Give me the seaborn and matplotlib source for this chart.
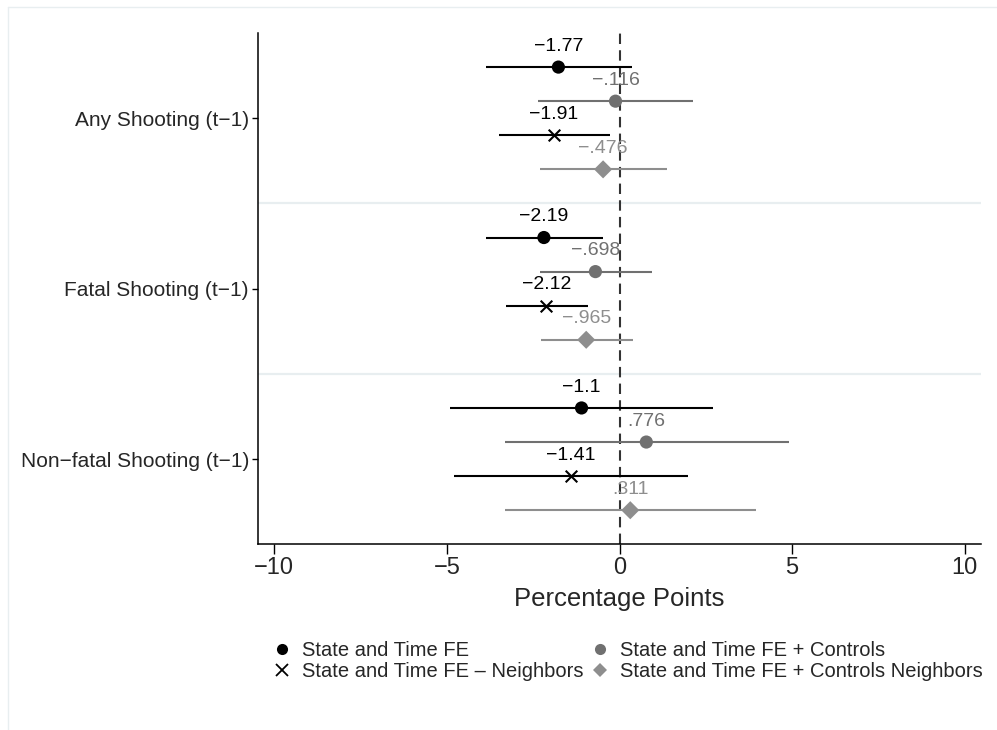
import pandas as pd
import matplotlib.pyplot as plt
import seaborn as sns
from matplotlib.lines import Line2D

# données
groups = ["Any Shooting (t\u22121)", "Fatal Shooting (t\u22121)", "Non\u2212fatal Shooting (t\u22121)"]
series = ["State and Time FE", "State and Time FE + Controls",
          "State and Time FE \u2013 Neighbors", "State and Time FE + Controls Neighbors"]

coef_fe = [-1.77, -2.19, -1.10]
coef_ctrl = [-0.116, -0.698, 0.776]
coef_nb = [-1.91, -2.12, -1.41]
coef_ctrl_nb = [-0.476, -0.965, 0.311]

lo_fe = [-3.87, -3.87, -4.90]
lo_ctrl = [-2.35, -2.30, -3.32]
lo_nb = [-3.50, -3.28, -4.78]
lo_ctrl_nb = [-2.31, -2.28, -3.31]

hi_fe = [0.37, -0.48, 2.72]
hi_ctrl = [2.13, 0.94, 4.90]
hi_nb = [-0.29, -0.92, 1.98]
hi_ctrl_nb = [1.38, 0.38, 3.95]

# style de chaque série
colors = ['black', '#707070', 'black', '#8e8e8e']
markers = ['o', 'o', 'x', 'D']
sizes = [90, 90, 70, 85]

coefs = [coef_fe, coef_ctrl, coef_nb, coef_ctrl_nb]
los = [lo_fe, lo_ctrl, lo_nb, lo_ctrl_nb]
his = [hi_fe, hi_ctrl, hi_nb, hi_ctrl_nb]

rows = []
for g, grp in enumerate(groups):
    for s, name in enumerate(series):
        rows.append({'group': grp, 'series': name,
                     'pos': g * 5 + 1 + (s - 1.5),
                     'coef': coefs[s][g], 'lo': los[s][g], 'hi': his[s][g]})
df = pd.DataFrame(rows)


def fmt(v):
    # format Stata : pas de zéro initial
    t = f"{v:.3g}".replace("0.", ".")
    return t.replace("-", "\u2212")


sns.set_style("white")
plt.rcParams['font.family'] = ['Liberation Sans', 'DejaVu Sans']
plt.rcParams['axes.unicode_minus'] = True

fig = plt.figure(figsize=(9.97, 7.30), dpi=100)
ax = fig.add_axes([258 / 997, 1 - 544.3 / 730, (980.7 - 258) / 997, (544.3 - 33) / 730])

# séparateurs entre groupes
for b in [3.5, 8.5]:
    ax.axhline(b, color='#e8eef0', lw=1.6, zorder=0)

ax.axvline(0, color='#333333', lw=1.5, dashes=(5, 3), zorder=1)

# intervalles de confiance + points (une série à la fois)
for s, name in enumerate(series):
    sub = df[df['series'] == name]
    ax.hlines(sub['pos'], sub['lo'], sub['hi'], color=colors[s], lw=1.5, zorder=2)
    if markers[s] == 'x':
        sns.scatterplot(data=sub, x='coef', y='pos', marker='x', s=sizes[s],
                        color=colors[s], linewidth=1.5, ax=ax, zorder=3)
    else:
        sns.scatterplot(data=sub, x='coef', y='pos', marker=markers[s], s=sizes[s],
                        color=colors[s], edgecolor='none', ax=ax, zorder=3)
    # étiquettes des coefficients
    for x, y in zip(sub['coef'], sub['pos']):
        ax.annotate(fmt(x), (x, y), xytext=(0, 15), textcoords='offset points',
                    ha='center', va='center', fontsize=14, color=colors[s], zorder=4)

ax.set_xlim(-10.47, 10.46)
ax.set_ylim(13.5, -1.5)
ax.set_yticks([1, 6, 11])
ax.set_yticklabels(groups, fontsize=15)
ax.set_xticks([-10, -5, 0, 5, 10])
ax.set_xticklabels([str(v).replace("-", "\u2212") for v in [-10, -5, 0, 5, 10]], fontsize=17)
ax.set_xlabel('Percentage Points', fontsize=18.5, labelpad=6)
ax.set_ylabel('')

for side in ['top', 'right']:
    ax.spines[side].set_visible(False)
for side in ['left', 'bottom']:
    ax.spines[side].set_color('black')
    ax.spines[side].set_linewidth(1.1)
ax.tick_params(axis='y', length=4.5, width=1, color='black', left=True, pad=2)
ax.tick_params(axis='x', length=7, width=1, color='black', bottom=True, pad=2)

# légende sur 2 colonnes
handles = [Line2D([], [], ls='none', marker=markers[s], color=colors[s],
                  markersize=8 if markers[s] != 'D' else 7,
                  markeredgewidth=1.3 if markers[s] == 'x' else 0)
           for s in range(4)]
order = [0, 2, 1, 3]
fig.legend([handles[i] for i in order], [series[i] for i in order], ncol=2,
           loc='upper left', bbox_to_anchor=(262 / 997, 1 - 631 / 730), frameon=False,
           fontsize=14.5, handletextpad=0.5, columnspacing=0.3, handlelength=1,
           labelspacing=0.12, borderpad=0)

# cadre extérieur léger
fig.add_artist(Line2D([8 / 997, 8 / 997], [0, 1 - 7 / 730], color='#e8eef0', lw=1,
                      transform=fig.transFigure))
fig.add_artist(Line2D([8 / 997, 1], [1 - 7 / 730, 1 - 7 / 730], color='#e8eef0', lw=1,
                      transform=fig.transFigure))

plt.savefig('out.png', dpi=100)
